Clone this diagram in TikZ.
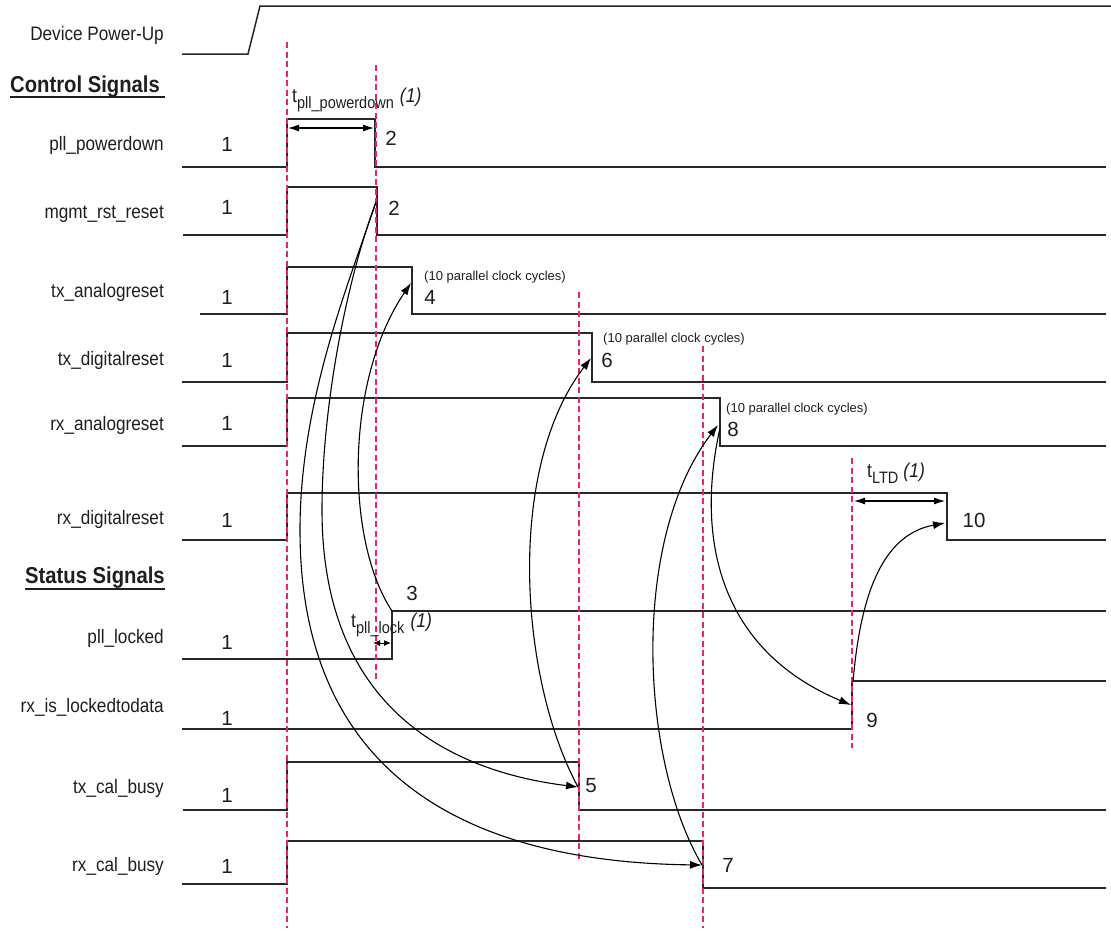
\documentclass[tikz,border=0pt]{standalone}
\usepackage{fontspec}
\setmainfont{Liberation Sans}
\newfontfamily\lblfont{Liberation Sans}[FakeStretch=0.88]
\newfontfamily\hdfont{Liberation Sans}[FakeStretch=0.88]
\usetikzlibrary{arrows.meta}
\definecolor{sigc}{RGB}{40,40,40}
\definecolor{redc}{RGB}{232,40,90}
\definecolor{txtc}{RGB}{30,30,30}
\begin{document}
\begin{tikzpicture}[x=1pt,y=-1pt,
  sig/.style={draw=sigc, line width=1.5pt, line join=miter},
  redline/.style={draw=redc, line width=1.3pt, dash pattern=on 6pt off 3.5pt},
  evarrow/.style={draw=black, line width=1.1pt, -{Latex[length=12pt,width=8pt]}},
  dimarrow/.style={draw=black, line width=1.1pt, {Latex[length=11pt,width=7pt]}-{Latex[length=11pt,width=7pt]}},
  smalldim/.style={draw=black, line width=1pt, {Latex[length=7pt,width=6pt]}-{Latex[length=7pt,width=6pt]}},
  lbl/.style={anchor=base east, inner sep=0pt, text=txtc, font={\lblfont\fontsize{19.5}{22}\selectfont}},
  num/.style={anchor=base, inner sep=0pt, text=txtc, font={\fontsize{20.5}{24}\selectfont}},
  tlbl/.style={anchor=base west, inner sep=0pt, text=txtc, font={\lblfont\fontsize{20}{22}\selectfont}},
  note/.style={anchor=base west, inner sep=0pt, text=txtc, font={\fontsize{13}{15}\selectfont}},
  hd/.style={anchor=base west, inner sep=0pt, text=txtc, font={\hdfont\bfseries\fontsize{23}{26}\selectfont}}
]
\newcommand{\subtxt}[1]{\raisebox{-6pt}{\fontsize{16.5}{18}\selectfont #1}}
\useasboundingbox (0,0) rectangle (1111,930);

% ---------- labels ----------
\node[lbl] (lpu) at (164,40) {Device Power-Up};
\node[hd] (hctl) at (10,92) {Control Signals};
\draw[line width=1.5pt, draw=txtc] (10,97) -- (165,97);
\node[lbl] (lpd) at (164,150) {pll\_powerdown};
\node[lbl] (lmg) at (164,218) {mgmt\_rst\_reset};
\node[lbl] (lta) at (164,297) {tx\_analogreset};
\node[lbl] (ltd) at (164,365) {tx\_digitalreset};
\node[lbl] (lra) at (164,430) {rx\_analogreset};
\node[lbl] (lrd) at (164,524) {rx\_digitalreset};
\node[hd] (hst) at (25,583) {Status Signals};
\draw[line width=1.5pt, draw=txtc] (25,589) -- (165,589);
\node[lbl] (lpl) at (164,643) {pll\_locked};
\node[lbl] (lrl) at (164,712) {rx\_is\_lockedtodata};
\node[lbl] (ltc) at (164,793) {tx\_cal\_busy};
\node[lbl] (lrc) at (164,871) {rx\_cal\_busy};

% ---------- "1" labels ----------
\node[num] (n1a) at (227,151) {1};
\node[num] (n1b) at (227,214) {1};
\node[num] (n1c) at (227,304) {1};
\node[num] (n1d) at (227,367) {1};
\node[num] (n1e) at (227,430) {1};
\node[num] (n1f) at (227,527) {1};
\node[num] (n1g) at (227,649) {1};
\node[num] (n1h) at (227,725) {1};
\node[num] (n1i) at (227,802) {1};
\node[num] (n1j) at (227,873) {1};

% ---------- signals ----------
\draw[sig] (182,54) -- (248,54) -- (260,6) -- (1111,6);
\draw[sig] (182,167) -- (287,167) -- (287,119) -- (375,119) -- (375,167) -- (1106,167);
\draw[sig] (183,235) -- (287,235) -- (287,187) -- (377,187) -- (377,235) -- (1106,235);
\draw[sig] (200,314) -- (287,314) -- (287,267) -- (412,267) -- (412,314) -- (1106,314);
\draw[sig] (182,382) -- (287,382) -- (287,333) -- (592,333) -- (592,382) -- (1106,382);
\draw[sig] (182,446) -- (287,446) -- (287,398) -- (720,398) -- (720,446) -- (1106,446);
\draw[sig] (182,540) -- (287,540) -- (287,493) -- (947,493) -- (947,540) -- (1106,540);
\draw[sig] (182,659) -- (392,659) -- (392,611) -- (1106,611);
\draw[sig] (182,729) -- (852,729) -- (852,681) -- (1106,681);
\draw[sig] (183,810) -- (287,810) -- (287,762) -- (579,762) -- (579,810) -- (1106,810);
\draw[sig] (182,884) -- (287,884) -- (287,841) -- (703,841) -- (703,888) -- (1106,888);

% ---------- red dashed markers ----------
\draw[redline] (287,42) -- (287,928);
\draw[redline] (376,65) -- (376,680);
\draw[redline] (579,292) -- (579,860);
\draw[redline] (703,346) -- (703,928);
\draw[redline] (852,458) -- (852,748);

% ---------- event numbers ----------
\node[num] (n2a) at (391,145) {2};
\node[num] (n2b) at (394,215) {2};
\node[num] (n3) at (412,600) {3};
\node[num] (n4) at (430,304) {4};
\node[num] (n5) at (591,792) {5};
\node[num] (n6) at (607,367) {6};
\node[num] (n7) at (728,872) {7};
\node[num] (n8) at (733,436) {8};
\node[num] (n9) at (872,727) {9};
\node[num] (n10) at (974,527) {10};
\node[note] (c4) at (424,280) {(10 parallel clock cycles)};
\node[note] (c6) at (603,342) {(10 parallel clock cycles)};
\node[note] (c8) at (726,412) {(10 parallel clock cycles)};

% ---------- timing labels ----------
\node[tlbl] (tpd) at (292,102) {t\subtxt{pll\_powerdown}\hspace{6pt}\textit{(1)}};
\node[tlbl] (tpl) at (351,627) {t\subtxt{pll\_lock}\hspace{6pt}\textit{(1)}};
\node[tlbl] (tlt) at (867,477) {t\subtxt{LTD}\hspace{5pt}\textit{(1)}};
\coordinate (dpa) at (288,128); \coordinate (dpb) at (374,128);
\draw[dimarrow] (dpa) -- (dpb);
\coordinate (dla) at (373,643); \coordinate (dlb) at (391,643);
\draw[smalldim] (dla) -- (dlb);
\coordinate (dta) at (854,501); \coordinate (dtb) at (945,501);
\draw[dimarrow] (dta) -- (dtb);

% ---------- event coordinates ----------
\coordinate (e2) at (376,202);
\coordinate (e3) at (392,611);
\coordinate (e4) at (411,283);
\coordinate (e5) at (578,787);
\coordinate (e6) at (591,358);
\coordinate (e7) at (702,865);
\coordinate (e8) at (718,425);
\coordinate (e8s) at (720,428);
\coordinate (e9) at (851,705);
\coordinate (e9s) at (853,682);
\coordinate (e10) at (945,523);

% ---------- causal arrows ----------
\draw[evarrow] (e2) .. controls (345,285) and (322,410) .. (322,510)
                    .. controls (322,700) and (440,770) .. (e5);
\draw[evarrow] (e2) .. controls (350,280) and (300,400) .. (300,530)
                    .. controls (300,770) and (460,862) .. (e7);
\draw[evarrow] (e3) .. controls (345,540) and (345,380) .. (e4);
\draw[evarrow] (e5) .. controls (520,680) and (505,470) .. (e6);
\draw[evarrow] (e7) .. controls (640,760) and (630,540) .. (e8);
\draw[evarrow] (e8s) .. controls (695,540) and (720,650) .. (e9);
\draw[evarrow] (e9s) .. controls (860,600) and (880,535) .. (e10);
\end{tikzpicture}
\end{document}
